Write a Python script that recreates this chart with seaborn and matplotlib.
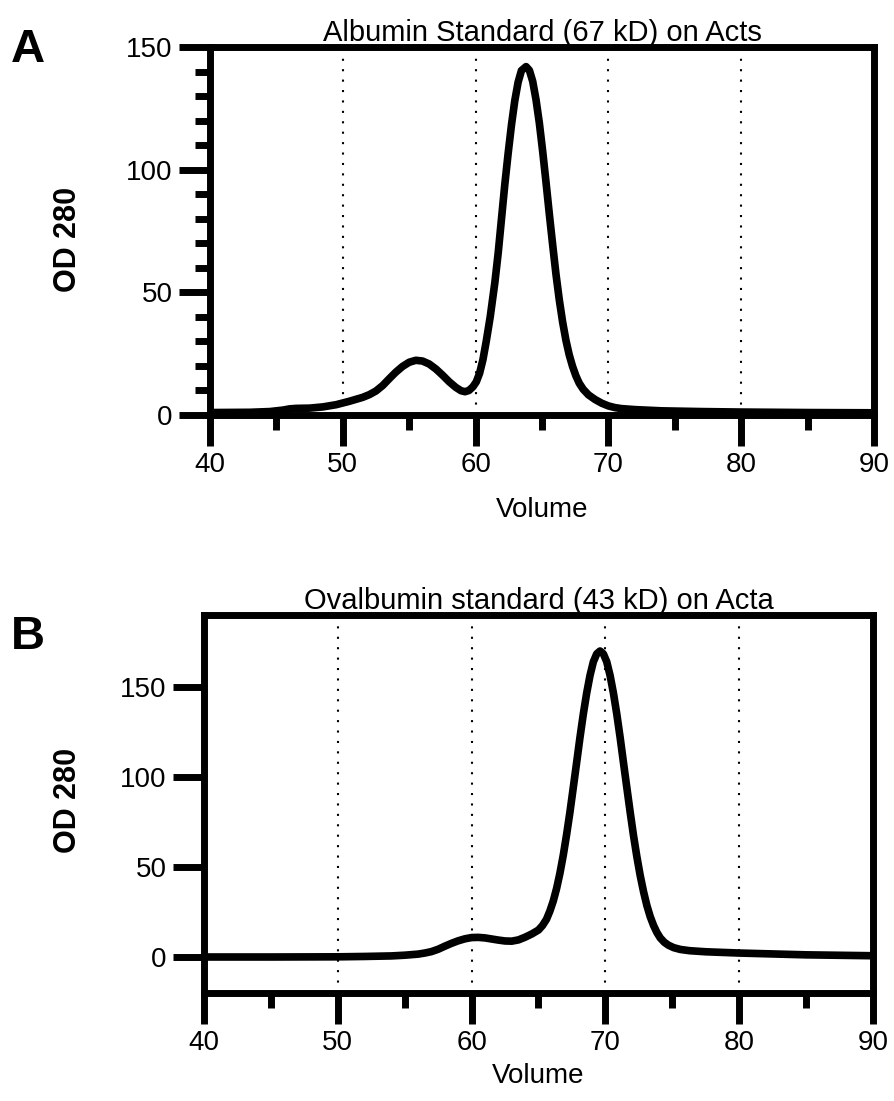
import matplotlib
matplotlib.use("Agg")
import pandas as pd
import matplotlib.pyplot as plt
import seaborn as sns
from matplotlib.ticker import MultipleLocator


sns.set_style("ticks")
plt.rcParams["font.family"] = ["Liberation Sans", "DejaVu Sans"]
plt.rcParams.update({
    "text.color": "black",
    "axes.labelcolor": "black",
    "xtick.color": "black",
    "ytick.color": "black",
    "axes.edgecolor": "black",
})


# Albumin standard (67 kD), panel A
ALBUMIN_VOLUME = [40, 43, 44.5, 45.5, 46, 46.5, 47.5, 48.5, 49.5, 50.5, 51.5, 52, 52.5,
                  53, 53.5, 54, 54.5, 55, 55.5, 56, 56.5, 57, 57.5, 58, 58.5, 58.9,
                  59.2, 59.5, 59.8, 60.05, 60.3, 60.55, 60.8, 61.1, 61.45, 61.7, 61.95,
                  62.2, 62.45, 62.7, 62.95, 63.2, 63.45, 63.8, 64.05, 64.3, 64.55, 64.8,
                  65.05, 65.3, 65.55, 65.8, 66.05, 66.3, 66.55, 66.8, 67.05, 67.3,
                  67.55, 67.8, 68.1, 68.5, 69, 69.5, 70, 70.5, 71, 72, 74, 77, 80,
                  85, 90]
ALBUMIN_OD = [1.0, 1.1, 1.4, 2.0, 2.5, 2.7, 2.8, 3.3, 4.2, 5.6, 7.2, 8.3, 9.8,
              12, 14.8, 17.5, 19.8, 21.5, 22.3, 22.0, 20.8, 18.8, 16.3, 13.6, 11.3, 9.9,
              9.5, 10.0, 11.5, 13.5, 17, 22.5, 30, 40, 54, 66, 80,
              94, 106.6, 118.2, 128.1, 135.6, 140.4, 142, 140.5, 136, 128.5, 119,
              107.5, 95, 82, 69.5, 57.5, 47, 38, 30.5, 24.5, 19.8,
              16, 13, 10.5, 8.2, 6.3, 4.8, 3.7, 3.0, 2.6, 2.2, 1.7, 1.4, 1.2,
              1.0, 0.9]

# Ovalbumin standard (43 kD), panel B
OVALBUMIN_VOLUME = [40, 45, 50, 52, 54, 55, 56, 56.5, 57, 57.5, 58, 58.5, 59, 59.5, 60,
                    60.5, 61, 61.5, 62, 62.5, 63, 63.5, 64, 64.5, 65, 65.3, 65.6, 65.85,
                    66.1, 66.35, 66.6, 66.85, 67.1, 67.35, 67.6, 67.85, 68.1, 68.35,
                    68.6, 68.85, 69.1, 69.35, 69.6, 69.85, 70.1, 70.35, 70.6, 70.85,
                    71.1, 71.35, 71.6, 71.85, 72.1, 72.35, 72.6, 72.85, 73.1, 73.35,
                    73.6, 73.85, 74.1, 74.4, 74.7, 75.1, 75.6, 76.3, 77.5, 80, 85, 90]
OVALBUMIN_OD = [0, 0, 0.1, 0.3, 0.6, 1.0, 1.6, 2.2, 3.0, 4.3, 6.0, 7.6, 9.0, 10.1, 10.8,
                10.9, 10.6, 10.0, 9.4, 8.9, 8.8, 9.5, 11, 12.8, 15, 17.5, 21, 25.5,
                31, 38, 46.5, 56.5, 68, 80.5, 94.2, 108, 122, 135,
                146.6, 156.4, 164, 168.4, 170, 168.4, 164, 156.4, 146.6, 135,
                122, 108, 94.2, 80.5, 67.5, 55.8, 45.3, 36.3, 28.6, 22.4,
                17.5, 13.6, 10.6, 8.2, 6.6, 5.2, 4.2, 3.5, 2.9, 2.2, 1.2, 0.7]

PANELS = [
    {
        "letter": "A",
        "title": "Albumin Standard (67 kD) on Acts",
        "volume": ALBUMIN_VOLUME,
        "od": ALBUMIN_OD,
        "rect": [210 / 895, 1 - 415 / 1101, 664 / 895, 368 / 1101],
        "ylim": (0, 150),
        "yticks": [0, 50, 100, 150],
        "yminor": 10,
        "letter_y": 1 - 50 / 1101,
        "ylabel_y": 1 - 239 / 1101,
        "xlabel_y": 1 - 510 / 1101,
    },
    {
        "letter": "B",
        "title": "Ovalbumin standard (43 kD) on Acta",
        "volume": OVALBUMIN_VOLUME,
        "od": OVALBUMIN_OD,
        "rect": [204 / 895, 1 - 993 / 1101, 669 / 895, 378 / 1101],
        "ylim": (-20, 190),
        "yticks": [0, 50, 100, 150],
        "yminor": None,
        "letter_y": 1 - 637 / 1101,
        "ylabel_y": 1 - 800 / 1101,
        "xlabel_y": 1 - 1076 / 1101,
    },
]


def style_axes(ax, ylim, yticks, yminor):
    ax.set_xlim(40, 90)
    ax.set_ylim(*ylim)
    ax.set_xticks(range(40, 91, 10))
    ax.xaxis.set_minor_locator(MultipleLocator(5))
    ax.set_yticks(yticks)
    if yminor:
        ax.yaxis.set_minor_locator(MultipleLocator(yminor))

    for spine in ax.spines.values():
        spine.set_visible(True)
        spine.set_linewidth(5)
        spine.set_color("black")

    ax.tick_params(which="major", length=22, width=5, labelsize=20, pad=5,
                   direction="out", color="black", labelcolor="black")
    ax.tick_params(which="minor", length=11, width=5, direction="out", color="black")
    ax.tick_params(which="both", top=False, right=False)

    ax.set_axisbelow(True)
    ax.grid(axis="x", which="major", color="black", linestyle=(0, (1, 4)), linewidth=1.5)
    ax.set_xlabel("")
    ax.set_ylabel("")


fig = plt.figure(figsize=(8.95, 11.01), dpi=100)

for panel in PANELS:
    ax = fig.add_axes(panel["rect"])
    df = pd.DataFrame({"Volume": panel["volume"], "OD 280": panel["od"]})
    sns.lineplot(data=df, x="Volume", y="OD 280", color="black", linewidth=5.5, ax=ax,
                 solid_joinstyle="round", solid_capstyle="round")
    style_axes(ax, panel["ylim"], panel["yticks"], panel["yminor"])
    ax.set_title(panel["title"], fontsize=21, pad=3, color="black")

    fig.text(0.012, panel["letter_y"], panel["letter"], fontsize=34, fontweight="bold",
             ha="left", va="center")
    fig.text(68 / 895, panel["ylabel_y"], "OD 280", fontsize=22, fontweight="bold",
             rotation=90, ha="center", va="center")
    x_mid = panel["rect"][0] + panel["rect"][2] / 2
    fig.text(x_mid, panel["xlabel_y"], "Volume", fontsize=20, ha="center", va="center")

fig.savefig("out.png", dpi=100)
